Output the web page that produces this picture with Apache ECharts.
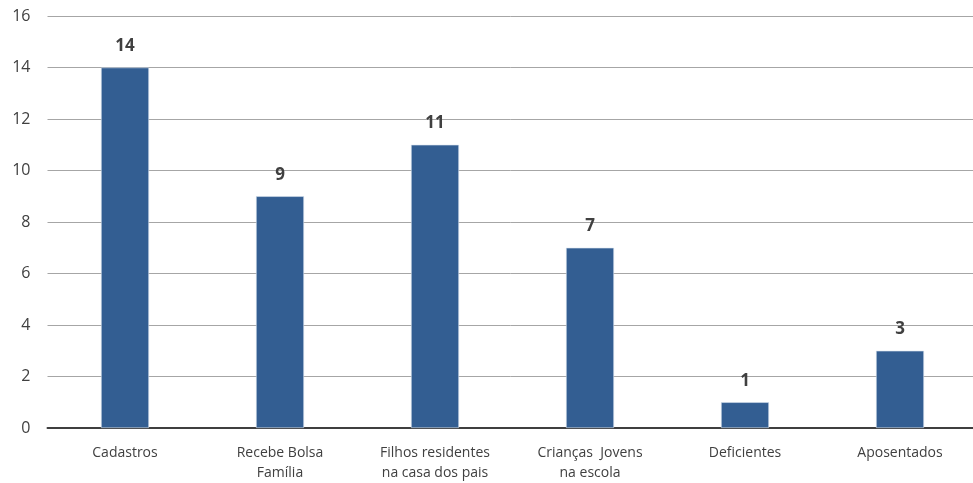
<!DOCTYPE html>
<html><head><meta charset="utf-8">
<script src="https://cdn.jsdelivr.net/npm/echarts@6/dist/echarts.min.js"></script>
<style>html,body{margin:0;padding:0;background:#fff}#c{width:973px;height:483px}</style>
</head><body><div id="c"></div>
<script>
const categories = ["Cadastros", "Recebe Bolsa\nFamília", "Filhos residentes\nna casa dos pais", "Crianças  Jovens\nna escola", "Deficientes", "Aposentados"];
const values = [14, 9, 11, 7, 1, 3];
const yTicks = {min: 0, max: 16, interval: 2};

const chart = echarts.init(document.getElementById('c'), null, {renderer: 'canvas'});
chart.setOption({
  animation: false,
  textStyle: {fontFamily: 'Open Sans'},
  grid: {left: 47.5, width: 930, top: 16, bottom: 55, containLabel: false, outerBoundsMode: 'none'},
  xAxis: {
    type: 'category', data: categories,
    axisLine: {lineStyle: {color: '#3f3f3f', width: 2}},
    axisTick: {show: false},
    axisLabel: {color: '#404040', fontSize: 14, margin: 15, lineHeight: 20, interval: 0}
  },
  yAxis: {
    type: 'value', min: yTicks.min, max: yTicks.max, interval: yTicks.interval,
    axisLine: {show: false}, axisTick: {show: false},
    axisLabel: {color: '#404040', fontSize: 16, margin: 17},
    splitLine: {lineStyle: {color: '#a6a6a6', width: 1}}
  },
  series: [{
    type: 'bar', data: values, barWidth: 48,
    itemStyle: {color: '#335e92', borderColor: '#d9e2ee', borderWidth: 0.6},
    label: {show: true, position: 'top', distance: 13, color: '#404040', fontSize: 17, fontWeight: 'bold'}
  }]
});
</script></body></html>
